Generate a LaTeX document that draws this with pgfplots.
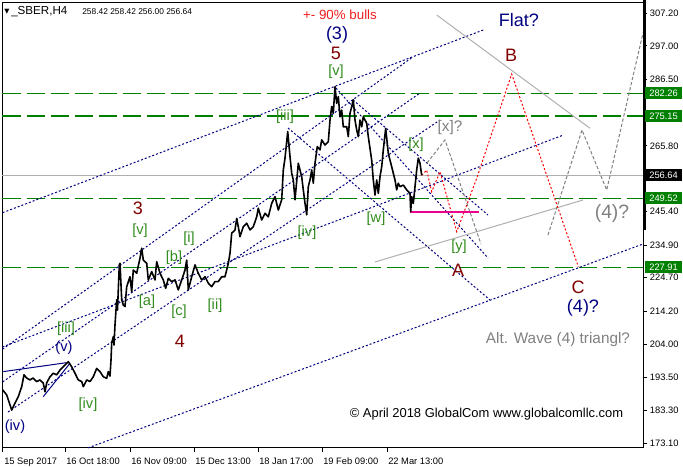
\documentclass[border=0pt]{standalone}
\usepackage{fontspec}
\setmainfont{Liberation Sans}
\newfontfamily\symfont{DejaVu Sans}
\usepackage{pgfplots}
\pgfplotsset{compat=1.18}

\definecolor{mtgreen}{RGB}{0,128,0}
\definecolor{mtnavy}{RGB}{0,0,128}
\definecolor{mtmaroon}{RGB}{128,0,0}
\definecolor{mtlabel}{RGB}{50,140,30}
\definecolor{mtgray}{RGB}{128,128,128}
\definecolor{mtsilver}{RGB}{175,175,175}
\definecolor{mtred}{RGB}{240,30,30}

\newcommand\fs{\fontsize{7}{8}\selectfont}
\newcommand\fa{\fontsize{11}{12}\selectfont}
\newcommand\fb{\fontsize{13.5}{15}\selectfont}
\newcommand\fc{\fontsize{11.5}{13}\selectfont}

\pgfplotstableread{
x y
2.7 189.7
6.7 188.1
11.7 183.4
15 185.6
18.3 187.6
21.7 190.7
24 194.4
26.7 193.4
30 192.8
33 193.4
36.7 192.3
40 192.8
43.3 191.8
45 189.1
46.7 191.9
50 193.8
53.3 194.9
56.7 194.4
60 195.9
63.3 196.9
66.7 198.0
68.3 198.5
71.7 196.9
75 194.9
78.3 192.8
81.7 192.3
83.3 190.7
86.7 192.8
90 192.3
93.3 193.8
96.7 196.4
100 195.4
103.3 193.8
106.7 193.3
108.3 195.4
110 194.0
111 199.0
111.7 204.3
113.3 206.3
114 203.7
115 210.0
116.7 217.8
117.5 214.6
118.3 220.9
119.3 228.7
120 229.2
121.7 217.8
123.3 216.2
125 215.7
126.7 221.9
130 225.0
131.7 220.3
133.3 227.1
136.7 226.1
140 230.8
141.7 233.9
143.3 230.2
146.7 229.2
148.3 224.0
151.7 226.6
155 224.0
156.7 229.7
160 226.1
163.3 224.0
165.7 221.4
168.3 224.5
171.7 223.5
175 224.0
178.3 220.9
181.7 224.0
185 227.1
186.7 230.2
188.3 220.9
191.7 225.0
195 228.7
198.3 226.1
201.7 224.0
205 225.0
208.3 223.0
211.7 221.9
215 223.5
218.3 223.5
221.7 225.0
225 225.0
228.3 229.2
230 232.3
231.7 238.6
235 239.6
236.7 243.2
238.3 240.6
240 237.5
243.3 240.6
246.7 241.7
250 239.6
253.3 240.6
256.7 243.7
258.3 246.4
261.7 242.7
265 244.8
268.3 243.7
271.7 247.9
275 250.0
278.3 245.8
281.7 249.0
283.3 258.3
285 262.0
286.7 267.1
287.7 270.3
290 262.5
291.7 257.3
293.3 255.2
295 249.0
298.3 260.4
300 258.3
301.7 256.2
303.3 252.1
305 247.9
306.7 244.3
308.3 253.1
310 255.2
311.7 258.3
313.3 254.2
315 260.4
317.3 265.6
320 264.6
321.7 267.7
325 266.1
328.3 267.1
330 273.9
331.7 278.1
333.3 276.0
335 284.3
336.7 279.1
338.3 281.2
340 274.9
341.7 277.0
343.3 271.8
346.7 271.8
348.3 268.7
350 276.0
351.7 278.1
353.3 280.2
355 273.9
356.7 270.8
358.3 268.7
360 273.9
361.7 271.8
363.3 274.9
365 273.9
366.7 272.9
368.3 268.7
371.7 261.4
373.3 255.2
375 250.5
376.7 255.2
378.3 251.0
380 256.2
381.7 259.3
383.3 264.6
385.7 271.3
388.3 263.5
390 261.4
391.7 259.3
393.3 257.3
395 255.2
396.7 252.1
398.3 254.2
400 253.1
403.3 253.6
406.7 252.1
410 251.0
410.7 245.3
411.7 250.0
413.3 247.9
415 253.1
416.7 258.3
418.3 262.0
420 260.4
421.7 256.64
}\price

\begin{document}
\begin{tikzpicture}
\path[use as bounding box] (-1.875pt,-14.25pt) rectangle (510.375pt,336pt);
\begin{axis}[
  scale only axis, width=480.375pt, height=334.125pt,
  xmin=2.5, xmax=643, ymin=171.57, ymax=310.57,
  clip=false,
  axis line style={black, line width=0.75pt},
  tick style={black, line width=0.75pt},
  tick align=outside, major tick length=3pt,
  xtick pos=bottom, ytick pos=right, yticklabel pos=right,
  xtick={3,65,130,194,258,322,387},
  xticklabels={15 Sep 2017,16 Oct 18:00,16 Nov 09:00,15 Dec 13:00,18 Jan 17:00,19 Feb 09:00,22 Mar 13:00},
  ytick={173.1,183.3,193.5,204.0,214.2,224.7,234.9,245.4,265.8,286.5,297.0,307.2},
  yticklabels={173.10,183.30,193.50,204.00,214.20,224.70,234.90,245.40,265.80,286.50,297.00,307.20},
  ticklabel style={font=\fs, inner sep=0pt},
  xticklabel style={anchor=north west, xshift=0.75pt, yshift=-4pt},
  yticklabel style={anchor=west, xshift=2pt},
]
% horizontal levels
\pgfplotsset{lev/.style={mtgreen, line width=0.8pt, dash pattern=on 13.5pt off 4.5pt}}
\addplot[lev] coordinates {(2.5,282.26) (643,282.26)};
\addplot[lev] coordinates {(2.5,275.15) (643,275.15)};
\addplot[lev] coordinates {(2.5,249.52) (643,249.52)};
\addplot[lev] coordinates {(2.5,227.91) (643,227.91)};
\addplot[mtsilver, line width=0.75pt] coordinates {(2.5,256.64) (643,256.64)};

% channel lines
\pgfplotsset{chan/.style={mtnavy, line width=0.75pt, dash pattern=on 1.5pt off 1.5pt}}
\addplot[chan] coordinates {(2.7,245.0) (485,302.2)};
\addplot[chan] coordinates {(88,171.6) (642,235.1)};
\addplot[chan] coordinates {(2.5,203.1) (563.3,269.2)};
\addplot[chan] coordinates {(2.5,202.4) (413,293.6)};
\addplot[chan] coordinates {(2.7,192.2) (420,282.3)};
\addplot[chan] coordinates {(8,182.8) (440,273.9)};
\addplot[chan] coordinates {(288,271.41) (490,217.75)};
\addplot[chan] coordinates {(336,283.89) (488,230.85)};
\addplot[chan] coordinates {(353,280.15) (488,244.27)};
\addplot[mtnavy, line width=0.75pt] coordinates {(3.3,195.4) (66.7,198.2)};
\addplot[mtnavy, line width=0.75pt] coordinates {(43.3,187.6) (70,198.0)};

% gray lines
\addplot[mtsilver, line width=0.75pt] coordinates {(436.7,306.67) (590,271.32)};
\addplot[mtsilver, line width=0.75pt] coordinates {(375,229.61) (583,248.95)};
\addplot[mtgray, line width=0.75pt, dash pattern=on 2.5pt off 1.5pt] coordinates {(427,260.5) (445,267.67) (481,235.22)};
\addplot[mtgray, line width=0.75pt, dash pattern=on 2.5pt off 1.5pt] coordinates {(548,238.03) (582,270.79) (606.7,252.07) (643,301.05)};

% projected path
\addplot[red, line width=0.75pt, dash pattern=on 1.5pt off 1.5pt] coordinates {(421.7,256.64) (426.7,258.3) (431.7,251.54) (440,257.78) (456.7,239.06) (476.7,255.72) (511.7,288.26) (578.3,228.14)};

\addplot[magenta, line width=1.5pt] coordinates {(410,245.1) (479.3,245.1)};

% price
\addplot[black, line width=1.2pt, line join=round] table[x=x,y=y] {\price};

% right scale bar
\draw[black, line width=2.5pt] (axis cs:644.3,311.35) -- (axis cs:644.3,239.6);

% wave labels
\node[mtred, font=\fontsize{10}{11}\selectfont] at (axis cs:340,306.67) {+- 90\% bulls};
\node[mtnavy, font=\fb] at (axis cs:337,300.43) {(3)};
\node[mtmaroon, font=\fb] at (axis cs:336,294.81) {5};
\node[mtlabel, font=\fa] at (axis cs:336,288.89) {[v]};
\node[mtnavy, font=\fb] at (axis cs:519,305.11) {Flat?};
\node[mtmaroon, font=\fb] at (axis cs:511,294.19) {B};
\node[mtmaroon, font=\fb] at (axis cs:138,246.45) {3};
\node[mtlabel, font=\fa] at (axis cs:140,239.28) {[v]};
\node[mtlabel, font=\fa] at (axis cs:174,230.85) {[b]};
\node[mtlabel, font=\fa] at (axis cs:189,236.78) {[i]};
\node[mtlabel, font=\fa] at (axis cs:147,217.13) {[a]};
\node[mtlabel, font=\fa] at (axis cs:179,214.01) {[c]};
\node[mtlabel, font=\fa] at (axis cs:215,215.88) {[ii]};
\node[mtmaroon, font=\fb] at (axis cs:180,204.96) {4};
\node[mtlabel, font=\fa] at (axis cs:66,208.7) {[iii]};
\node[mtnavy, font=\fa] at (axis cs:64,202.77) {(v)};
\node[mtlabel, font=\fa] at (axis cs:88,184.99) {[iv]};
\node[mtnavy, font=\fa] at (axis cs:15,178.13) {(iv)};
\node[mtlabel, font=\fa] at (axis cs:285,274.85) {[iii]};
\node[mtlabel, font=\fa] at (axis cs:307,238.65) {[iv]};
\node[mtlabel, font=\fa] at (axis cs:376,243.02) {[w]};
\node[mtlabel, font=\fa] at (axis cs:416,266.11) {[x]};
\node[mtgray, font=\fc] at (axis cs:450,271.41) {[x]?};
\node[mtlabel, font=\fa] at (axis cs:459,234.29) {[y]};
\node[mtmaroon, font=\fb] at (axis cs:458,227.11) {A};
\node[mtmaroon, font=\fb] at (axis cs:578,221.81) {C};
\node[mtnavy, font=\fb] at (axis cs:583,215.25) {(4)?};
\node[mtgray, font=\fontsize{14.5}{16}\selectfont] at (axis cs:612,244.89) {(4)?};
\node[mtgray, font=\fc] at (axis cs:558,205.27) {Alt. Wave (4) triangl?};
\node[black, font=\fontsize{9.7}{11}\selectfont] at (axis cs:486.5,182.18) {© April 2018 GlobalCom www.globalcomllc.com};
% chart header
\node[black, font=\symfont\fontsize{5}{6}\selectfont, anchor=west, inner sep=0pt] at (axis cs:4,307.8) {▼};
\node[black, font=\fontsize{8.7}{9}\selectfont, anchor=west, inner sep=0pt] at (axis cs:11,307.8) {\_SBER,H4};
\node[black, font=\fontsize{6.3}{7}\selectfont, anchor=west, inner sep=0pt] at (axis cs:82,307.8) {258.42 258.42 256.00 256.64};

\coordinate (l1) at (axis cs:643,282.26);
\coordinate (l2) at (axis cs:643,275.15);
\coordinate (l3) at (axis cs:643,256.64);
\coordinate (l4) at (axis cs:643,249.52);
\coordinate (l5) at (axis cs:643,227.91);
\end{axis}
\tikzset{lab/.style={anchor=west, inner sep=0pt, minimum width=27.5pt, minimum height=9pt, text=white, font=\fs, xshift=1.5pt}}
\node[lab, fill=mtgreen] at (l1) {282.26};
\node[lab, fill=mtgreen] at (l2) {275.15};
\node[lab, fill=black] at (l3) {256.64};
\node[lab, fill=mtgreen] at (l4) {249.52};
\node[lab, fill=mtgreen] at (l5) {227.91};
\end{tikzpicture}
\end{document}
